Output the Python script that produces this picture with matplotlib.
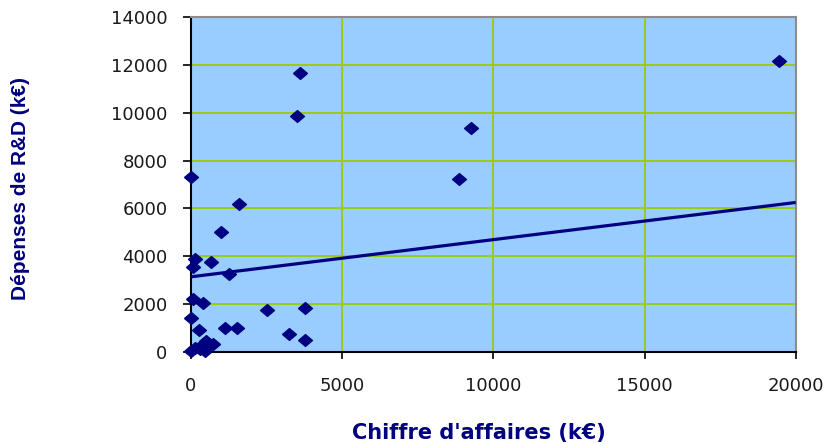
import matplotlib
matplotlib.use("Agg")
import matplotlib.pyplot as plt
import numpy as np

# chiffre d'affaires (k€) / dépenses de R&D (k€)
ca = [19460, 3600, 3500, 9260, 8880, 0, 1590, 990, 130, 50, 660, 1260,
      50, 410, 2500, 3770, 10, 260, 1120, 1530, 3240, 3770,
      0, 130, 300, 360, 500, 630, 730, 460]
rd = [12150, 11650, 9850, 9350, 7220, 7300, 6190, 5020, 3880, 3570, 3750, 3270,
      2220, 2040, 1760, 1850, 1420, 930, 1000, 1000, 760, 510,
      50, 180, 140, 300, 470, 300, 350, 50]

# linear trend line as shown on the chart (slope, intercept)
trend_slope = 0.155
trend_inter = 3150

xticks = [0, 5000, 10000, 15000, 20000]
yticks = [0, 2000, 4000, 6000, 8000, 10000, 12000, 14000]

navy = '#000080'

#=======================================================
fig = plt.figure(figsize=(8.33, 4.44), dpi=100)
ax = fig.add_axes([191/833, 1-352.3/444, (795.7-191)/833, (352.3-16.7)/444])

ax.set_facecolor('#99CCFF')
ax.set_xlim(xticks[0], xticks[-1])
ax.set_ylim(yticks[0], yticks[-1])
ax.set_xticks(xticks)
ax.set_yticks(yticks)
ax.grid(True, color='#99CC00', lw=1.3, zorder=0)
ax.set_axisbelow(True)

for s in ['top', 'right']:
    ax.spines[s].set_color('#8C8C8C')
    ax.spines[s].set_linewidth(1.5)
for s in ['left', 'bottom']:
    ax.spines[s].set_color('black')
    ax.spines[s].set_linewidth(1.5)

ax.tick_params(axis='y', direction='out', length=6, width=1.2, pad=11,
               labelsize=13, labelcolor='#1a1a1a')
ax.tick_params(axis='x', direction='out', length=5, width=1.2, pad=13,
               labelsize=13, labelcolor='#1a1a1a')

# diamond markers, a bit flattened
diamond = [(-1, 0), (0, 0.85), (1, 0), (0, -0.85), (-1, 0)]
ax.plot(ca, rd, ls='none', marker=diamond, ms=10, color=navy,
        mec=navy, clip_on=False, zorder=3)

xs = np.array([xticks[0], xticks[-1]])
ax.plot(xs, trend_slope*xs + trend_inter, color=navy, lw=2.3, zorder=4,
        clip_on=False, solid_capstyle='butt')

ax.set_xlabel("Chiffre d'affaires (k€)", fontsize=15, fontweight='bold',
              color=navy)
ax.xaxis.set_label_coords(0.476, -0.211)
ax.set_ylabel("Dépenses de R&D (k€)", fontsize=15, fontweight='bold',
              color=navy, family=['Liberation Sans', 'DejaVu Sans'])
ax.yaxis.set_label_coords(-0.266, 0.487)

fig.savefig('out.png', dpi=100)
